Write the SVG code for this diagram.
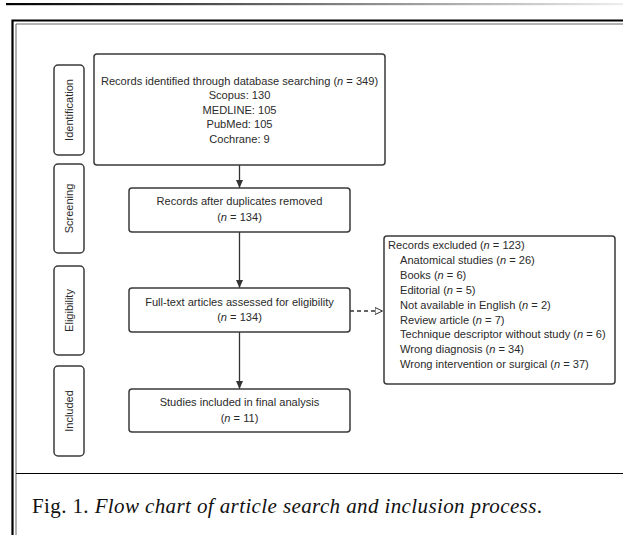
<svg xmlns="http://www.w3.org/2000/svg" width="623" height="535" viewBox="0 0 623 535">
<style>
.box{fill:#fff;stroke:#3a3a3a;stroke-width:1.5}
.stage{fill:#fff;stroke:#3a3a3a;stroke-width:1.5}
.t{font-family:"Liberation Sans",Arial,sans-serif;font-size:11.1px;fill:#2a2a2a}
.c{text-anchor:middle}
.st{font-family:"Liberation Sans",Arial,sans-serif;font-size:11px;fill:#2a2a2a;text-anchor:middle}
.i{font-style:italic}
.con{stroke:#333;stroke-width:1.3;fill:none}
.cap{font-family:"Liberation Serif","Times New Roman",serif;font-size:21px;fill:#111}
</style>
<defs>
<linearGradient id="g" x1="0" y1="0" x2="1" y2="0">
<stop offset="0" stop-color="#000"/>
<stop offset="1" stop-color="#eee"/>
</linearGradient>
<marker id="ah" markerUnits="userSpaceOnUse" markerWidth="9" markerHeight="8" refX="8" refY="3.5" orient="auto">
<path d="M0,0 L8,3.5 L0,7 z" fill="#333"/>
</marker>
<marker id="oh" markerUnits="userSpaceOnUse" markerWidth="10" markerHeight="9" refX="8.5" refY="4" orient="auto">
<path d="M0.5,0.5 L8,4 L0.5,7.5 z" fill="#fff" stroke="#333" stroke-width="1"/>
</marker>
</defs>
<rect width="623" height="535" fill="#fff"/>
<g id="page-frame">
<rect x="6" y="3" width="617" height="2.2" fill="url(#g)"/>
<path d="M12.5,535 V20.5 H623" fill="none" stroke="#000" stroke-width="2.2"/>
<path d="M16,535 V24 H623" fill="none" stroke="#666" stroke-width="1"/>
<path d="M16,473.5 H623" fill="none" stroke="#000" stroke-width="1.2"/>
</g>
<g id="stage-identification">
<rect class="stage" x="54" y="65" width="30" height="90" rx="4"/>
<text class="st" transform="translate(72.8,110) rotate(-90)">Identification</text>
</g>
<g id="stage-screening">
<rect class="stage" x="54" y="164" width="30" height="89" rx="4"/>
<text class="st" transform="translate(72.8,208.5) rotate(-90)">Screening</text>
</g>
<g id="stage-eligibility">
<rect class="stage" x="54" y="266" width="30" height="89" rx="4"/>
<text class="st" transform="translate(72.8,310.5) rotate(-90)">Eligibility</text>
</g>
<g id="stage-included">
<rect class="stage" x="54" y="366" width="30" height="90" rx="4"/>
<text class="st" transform="translate(72.8,411) rotate(-90)">Included</text>
</g>
<g id="connectors">
<line class="con" x1="239.5" y1="165" x2="239.5" y2="188" marker-end="url(#ah)"/>
<line class="con" x1="239.5" y1="232" x2="239.5" y2="288" marker-end="url(#ah)"/>
<line class="con" x1="239.5" y1="332" x2="239.5" y2="389" marker-end="url(#ah)"/>
<line class="con" x1="350" y1="311" x2="383" y2="311" stroke-dasharray="4,3" marker-end="url(#oh)"/>
</g>
<g id="node-identified">
<rect class="box" x="94" y="54" width="291" height="111" rx="3"/>
<text class="t c" x="239.5" y="85">Records identified through database searching (<tspan class="i">n</tspan> = 349)</text>
<text class="t c" x="239.5" y="99">Scopus: 130</text>
<text class="t c" x="239.5" y="114">MEDLINE: 105</text>
<text class="t c" x="239.5" y="128">PubMed: 105</text>
<text class="t c" x="239.5" y="143">Cochrane: 9</text>
</g>
<g id="node-duplicates">
<rect class="box" x="129" y="188" width="221" height="44" rx="3"/>
<text class="t c" x="239.5" y="205">Records after duplicates removed</text>
<text class="t c" x="239.5" y="221">(<tspan class="i">n</tspan> = 134)</text>
</g>
<g id="node-fulltext">
<rect class="box" x="129" y="288" width="221" height="44" rx="3"/>
<text class="t c" x="239.5" y="306">Full-text articles assessed for eligibility</text>
<text class="t c" x="239.5" y="321">(<tspan class="i">n</tspan> = 134)</text>
</g>
<g id="node-included">
<rect class="box" x="129" y="389" width="221" height="43" rx="3"/>
<text class="t c" x="239.5" y="406">Studies included in final analysis</text>
<text class="t c" x="239.5" y="422">(<tspan class="i">n</tspan> = 11)</text>
</g>
<g id="node-excluded">
<rect class="box" x="384" y="236" width="231" height="148" rx="3"/>
<text class="t" x="388" y="249">Records excluded (<tspan class="i">n</tspan> = 123)</text>
<text class="t" x="400" y="264">Anatomical studies (<tspan class="i">n</tspan> = 26)</text>
<text class="t" x="400" y="279">Books (<tspan class="i">n</tspan> = 6)</text>
<text class="t" x="400" y="294">Editorial (<tspan class="i">n</tspan> = 5)</text>
<text class="t" x="400" y="309">Not available in English (<tspan class="i">n</tspan> = 2)</text>
<text class="t" x="400" y="323.5">Review article (<tspan class="i">n</tspan> = 7)</text>
<text class="t" x="400" y="338">Technique descriptor without study (<tspan class="i">n</tspan> = 6)</text>
<text class="t" x="400" y="353">Wrong diagnosis (<tspan class="i">n</tspan> = 34)</text>
<text class="t" x="400" y="368">Wrong intervention or surgical (<tspan class="i">n</tspan> = 37)</text>
</g>
<g id="caption">
<text class="cap" x="32" y="513" textLength="510" lengthAdjust="spacing">Fig. 1. <tspan font-style="italic">Flow chart of article search and inclusion process</tspan>.</text>
</g>
</svg>
